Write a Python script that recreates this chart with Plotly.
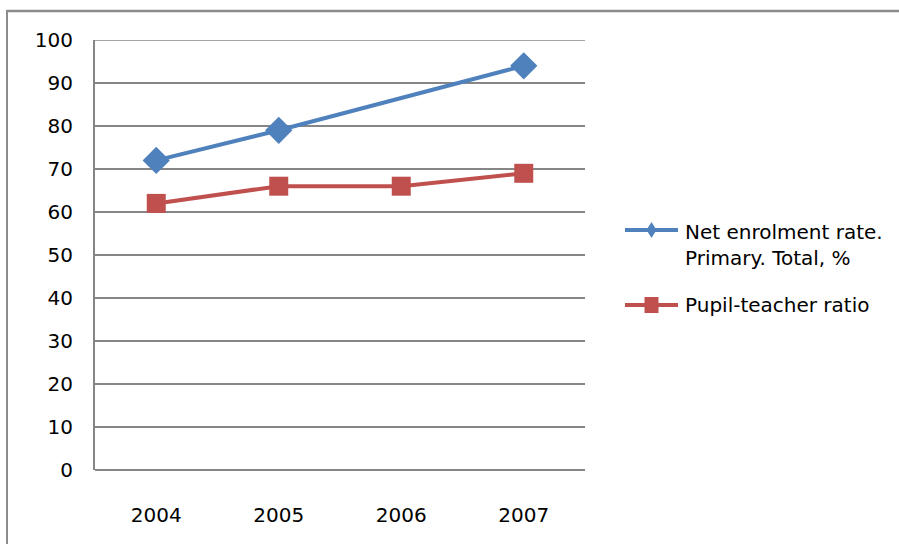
import plotly.graph_objects as go

years = ["2004", "2005", "2006", "2007"]
net_enrolment = [72, 79, None, 94]
pupil_teacher = [62, 66, 66, 69]
y_ticks = [0, 10, 20, 30, 40, 50, 60, 70, 80, 90, 100]
series_names = ["Net enrolment rate.<br>Primary. Total, %", "Pupil-teacher ratio"]

BLUE = "#4F81BD"
RED = "#C0504D"
GRID = "#868686"
FONT = "DejaVu Sans, Verdana, sans-serif"

# plot area geometry in pixels (used to place the hand-drawn legend)
L, R, T, B = 95, 585, 40, 470
W, H = 899, 544


def px_x(p):
    return (p - L) / (R - L)


def px_y(p):
    return (B - p) / (B - T)


fig = go.Figure()
fig.add_trace(go.Scatter(
    x=years, y=net_enrolment, name=series_names[0],
    mode="lines+markers", connectgaps=True,
    line=dict(color=BLUE, width=4),
    marker=dict(symbol="diamond", size=21, color=BLUE),
))
fig.add_trace(go.Scatter(
    x=years, y=pupil_teacher, name=series_names[1],
    mode="lines+markers",
    line=dict(color=RED, width=4),
    marker=dict(symbol="square", size=19, color=RED),
))

# top gridline at 100
fig.add_shape(type="line", xref="paper", yref="y", x0=0, x1=1, y0=100, y1=100,
              line=dict(color=GRID, width=1.5))

# outer chart frame (top and left edges)
fig.add_shape(type="line", xref="paper", yref="paper",
              x0=px_x(6), x1=px_x(W + 20), y0=px_y(11), y1=px_y(11),
              line=dict(color="#8c8c8c", width=2.5))
fig.add_shape(type="line", xref="paper", yref="paper",
              x0=px_x(7), x1=px_x(7), y0=px_y(11), y1=px_y(H + 20),
              line=dict(color="#8c8c8c", width=2))

# legend: line keys with markers, and labels
legend_rows = [(230, 245, BLUE, "diamond"), (305, 305, RED, "square")]
for (ky, ty, col, sym), name in zip(legend_rows, series_names):
    fig.add_shape(type="line", xref="paper", yref="paper",
                  x0=px_x(625), x1=px_x(678), y0=px_y(ky), y1=px_y(ky),
                  line=dict(color=col, width=4))
    cx = 651.5
    if sym == "diamond":
        path = (f"M {px_x(cx - 5)} {px_y(ky)} L {px_x(cx)} {px_y(ky - 8)} "
                f"L {px_x(cx + 5)} {px_y(ky)} L {px_x(cx)} {px_y(ky + 8)} Z")
    else:
        path = (f"M {px_x(cx - 7)} {px_y(ky - 8)} L {px_x(cx + 7)} {px_y(ky - 8)} "
                f"L {px_x(cx + 7)} {px_y(ky + 8)} L {px_x(cx - 7)} {px_y(ky + 8)} Z")
    fig.add_shape(type="path", xref="paper", yref="paper", path=path,
                  fillcolor=col, line=dict(width=0))
    fig.add_annotation(xref="paper", yref="paper", x=px_x(683), y=px_y(ty),
                       xanchor="left", yanchor="middle", align="left",
                       text=name, showarrow=False,
                       font=dict(family=FONT, size=20, color="black"))

fig.update_layout(
    width=W, height=H,
    margin=dict(l=L, r=W - R, t=T, b=H - B),
    paper_bgcolor="white", plot_bgcolor="white",
    font=dict(family=FONT, color="black"),
    showlegend=False,
    xaxis=dict(
        type="category", range=[-0.5, 3.5],
        showgrid=False, showline=False, zeroline=False,
        ticks="", tickfont=dict(size=20), ticklabelstandoff=31,
    ),
    yaxis=dict(
        range=[0, 100], tickvals=y_ticks,
        showgrid=True, gridcolor=GRID, gridwidth=1.5,
        showline=True, linecolor=GRID, linewidth=2,
        zeroline=True, zerolinecolor=GRID, zerolinewidth=2,
        ticks="", tickfont=dict(size=20), ticklabelstandoff=16,
    ),
)

fig.write_html("out.html")
